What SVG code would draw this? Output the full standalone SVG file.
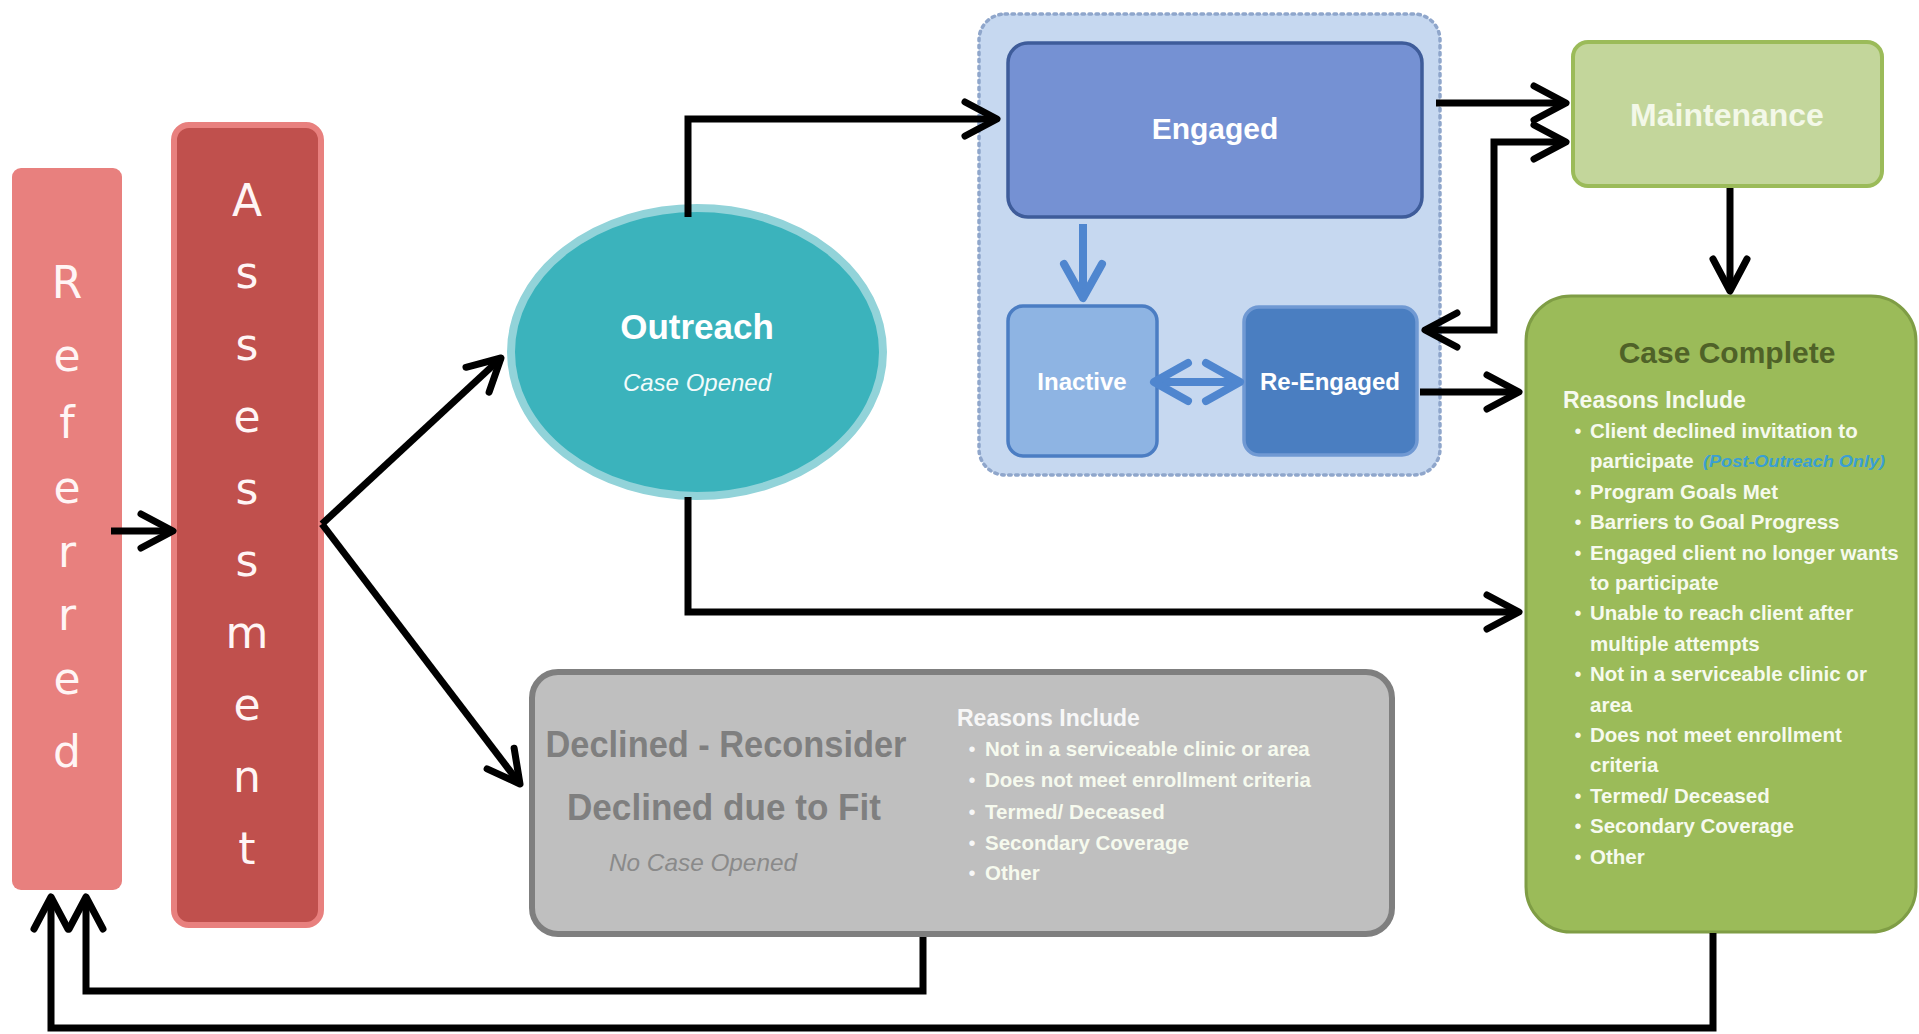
<svg xmlns="http://www.w3.org/2000/svg" width="1919" height="1034" viewBox="0 0 1919 1034">
<style>
.conn{fill:none;stroke:#000;stroke-width:7;stroke-linejoin:miter}
.blue{fill:none;stroke:#4F86CF;stroke-width:8}
.vl{font-family:"DejaVu Sans",Verdana,sans-serif;font-size:44px;fill:#FFF5F5;text-anchor:middle}
.t{font-family:"Liberation Sans",Arial,sans-serif;font-weight:bold;text-anchor:middle}
.li{font-family:"Liberation Sans",Arial,sans-serif;font-weight:bold;font-size:20.5px;fill:#F6FAEE}
.bul{font-family:"Liberation Sans",Arial,sans-serif;font-size:20px;text-anchor:middle}
</style>
<defs>
<marker id="ah" markerUnits="userSpaceOnUse" viewBox="-45 -30 60 60" markerWidth="60" markerHeight="60" refX="0" refY="0" orient="auto-start-reverse" overflow="visible">
<path d="M -32,-17 L 0,0 L -32,17" fill="none" stroke="#000" stroke-width="7" stroke-linecap="round" stroke-linejoin="round"/>
</marker>
<marker id="bh" markerUnits="userSpaceOnUse" viewBox="-45 -30 60 60" markerWidth="60" markerHeight="60" refX="0" refY="0" orient="auto-start-reverse" overflow="visible">
<path d="M -34,-19 L 0,0 L -34,19" fill="none" stroke="#4F86CF" stroke-width="8" stroke-linecap="round" stroke-linejoin="round"/>
</marker>
</defs>
<rect width="1919" height="1034" fill="#fff"/>

<g id="referred">
<rect x="12" y="168" width="110" height="722" rx="9" fill="#E8807E"/>
<text class="vl" x="67" y="298">R</text>
<text class="vl" x="67" y="371">e</text>
<text class="vl" x="67" y="438">f</text>
<text class="vl" x="67" y="503">e</text>
<text class="vl" x="67" y="567">r</text>
<text class="vl" x="67" y="630">r</text>
<text class="vl" x="67" y="694">e</text>
<text class="vl" x="67" y="767">d</text>
</g>

<g id="assessment">
<rect x="174" y="125" width="147" height="800" rx="15" fill="#C0504D" stroke="#E8807E" stroke-width="6"/>
<text class="vl" x="247" y="216">A</text>
<text class="vl" x="247" y="288">s</text>
<text class="vl" x="247" y="360">s</text>
<text class="vl" x="247" y="432">e</text>
<text class="vl" x="247" y="504">s</text>
<text class="vl" x="247" y="576">s</text>
<text class="vl" x="247" y="648">m</text>
<text class="vl" x="247" y="720">e</text>
<text class="vl" x="247" y="792">n</text>
<text class="vl" x="247" y="864">t</text>
</g>

<g id="outreach">
<ellipse cx="697" cy="352" rx="186" ry="144" fill="#3BB3BC" stroke="#92D3D9" stroke-width="8"/>
<text class="t" x="697" y="339" font-size="35" fill="#fff">Outreach</text>
<text x="697" y="391" font-family="Liberation Sans, Arial, sans-serif" font-style="italic" font-size="24" fill="#F2FBFB" text-anchor="middle">Case Opened</text>
</g>

<g id="engaged-group">
<rect x="979" y="14" width="461" height="461" rx="26" fill="#C6D8F0" stroke="#8FA6CB" stroke-width="3.5" stroke-dasharray="2.5 4.5" stroke-linecap="round"/>
</g>

<g id="engaged">
<rect x="1008" y="43" width="414" height="174" rx="20" fill="#7591D3" stroke="#3E5C9A" stroke-width="3.5"/>
<text class="t" x="1215" y="139" font-size="30" fill="#fff">Engaged</text>
</g>

<g id="inactive">
<rect x="1008" y="306" width="149" height="150" rx="15" fill="#8EB4E3" stroke="#4B7DC3" stroke-width="3.5"/>
<text class="t" x="1082" y="390" font-size="24" fill="#fff">Inactive</text>
</g>

<g id="re-engaged">
<rect x="1244" y="307" width="173" height="148" rx="15" fill="#4A7EC1" stroke="#7099D3" stroke-width="3.5"/>
<text class="t" x="1330" y="390" font-size="24" fill="#fff">Re-Engaged</text>
</g>

<g id="maintenance">
<rect x="1573" y="42" width="309" height="144" rx="15" fill="#C3D69B" stroke="#9BBB59" stroke-width="4"/>
<text class="t" x="1727" y="126" font-size="32" fill="#F3F8E8">Maintenance</text>
</g>

<g id="case-complete">
<rect x="1526" y="296" width="390" height="636" rx="45" fill="#9BBB59" stroke="#7F9D45" stroke-width="3"/>
<text class="t" x="1727" y="363" font-size="30" fill="#4F6228">Case Complete</text>
<text x="1563" y="408" font-family="Liberation Sans, Arial, sans-serif" font-weight="bold" font-size="23" fill="#F6FAEE">Reasons Include</text>
<g fill="#F6FAEE">
<text class="bul" x="1578" y="438">•</text>
<text class="bul" x="1578" y="499">•</text>
<text class="bul" x="1578" y="529">•</text>
<text class="bul" x="1578" y="560">•</text>
<text class="bul" x="1578" y="620">•</text>
<text class="bul" x="1578" y="681">•</text>
<text class="bul" x="1578" y="742">•</text>
<text class="bul" x="1578" y="803">•</text>
<text class="bul" x="1578" y="833">•</text>
<text class="bul" x="1578" y="864">•</text>
</g>
<text class="li" x="1590" y="438">Client declined invitation to</text>
<text class="li" x="1590" y="468">participate</text>
<text x="1703" y="467" font-family="Liberation Sans, Arial, sans-serif" font-weight="bold" font-style="italic" font-size="16" fill="#3A9FD3" textLength="182" lengthAdjust="spacingAndGlyphs">(Post-Outreach Only)</text>
<text class="li" x="1590" y="499">Program Goals Met</text>
<text class="li" x="1590" y="529">Barriers to Goal Progress</text>
<text class="li" x="1590" y="560">Engaged client no longer wants</text>
<text class="li" x="1590" y="590">to participate</text>
<text class="li" x="1590" y="620">Unable to reach client after</text>
<text class="li" x="1590" y="651">multiple attempts</text>
<text class="li" x="1590" y="681">Not in a serviceable clinic or</text>
<text class="li" x="1590" y="712">area</text>
<text class="li" x="1590" y="742">Does not meet enrollment</text>
<text class="li" x="1590" y="772">criteria</text>
<text class="li" x="1590" y="803">Termed/ Deceased</text>
<text class="li" x="1590" y="833">Secondary Coverage</text>
<text class="li" x="1590" y="864">Other</text>
</g>

<g id="declined">
<rect x="532" y="672" width="860" height="262" rx="26" fill="#BFBFBF" stroke="#7F7F7F" stroke-width="6"/>
<text class="t" x="726" y="757" font-size="36" fill="#7F7F7F" textLength="361" lengthAdjust="spacingAndGlyphs">Declined - Reconsider</text>
<text class="t" x="724" y="820" font-size="36" fill="#7F7F7F" textLength="314" lengthAdjust="spacingAndGlyphs">Declined due to Fit</text>
<text x="703" y="871" font-family="Liberation Sans, Arial, sans-serif" font-style="italic" font-size="24" fill="#8A8A8A" text-anchor="middle" textLength="188" lengthAdjust="spacingAndGlyphs">No Case Opened</text>
<text x="957" y="726" font-family="Liberation Sans, Arial, sans-serif" font-weight="bold" font-size="23" fill="#F7F7F7">Reasons Include</text>
<g fill="#F7F7F7">
<text class="bul" x="972" y="756">•</text>
<text class="bul" x="972" y="787">•</text>
<text class="bul" x="972" y="819">•</text>
<text class="bul" x="972" y="850">•</text>
<text class="bul" x="972" y="880">•</text>
</g>
<text class="li" x="985" y="756" fill="#F7F7F7">Not in a serviceable clinic or area</text>
<text class="li" x="985" y="787" fill="#F7F7F7">Does not meet enrollment criteria</text>
<text class="li" x="985" y="819" fill="#F7F7F7">Termed/ Deceased</text>
<text class="li" x="985" y="850" fill="#F7F7F7">Secondary Coverage</text>
<text class="li" x="985" y="880" fill="#F7F7F7">Other</text>
</g>

<g id="connectors">
<path class="conn" d="M 111,531 L 173,531" marker-end="url(#ah)"/>
<path class="conn" d="M 322,524 L 501,358" marker-end="url(#ah)"/>
<path class="conn" d="M 322,524 L 520,784" marker-end="url(#ah)"/>
<path class="conn" d="M 688,217 L 688,119 L 997,119" marker-end="url(#ah)"/>
<path class="conn" d="M 688,497 L 688,612 L 1519,612" marker-end="url(#ah)"/>
<path class="conn" d="M 1436,103 L 1566,103" marker-end="url(#ah)"/>
<path class="conn" d="M 1566,142 L 1494,142 L 1494,330 L 1425,330" marker-start="url(#ah)" marker-end="url(#ah)"/>
<path class="conn" d="M 1730,188 L 1730,291" marker-end="url(#ah)"/>
<path class="conn" d="M 1420,392 L 1519,392" marker-end="url(#ah)"/>
<path class="conn" d="M 923,937 L 923,991 L 86,991 L 86,897" marker-end="url(#ah)"/>
<path class="conn" d="M 1713,933 L 1713,1028 L 51,1028 L 51,897" marker-end="url(#ah)"/>
<path class="blue" d="M 1083,224 L 1083,298" marker-end="url(#bh)"/>
<path class="blue" d="M 1154,382 L 1240,382" marker-start="url(#bh)" marker-end="url(#bh)"/>
</g>
</svg>
